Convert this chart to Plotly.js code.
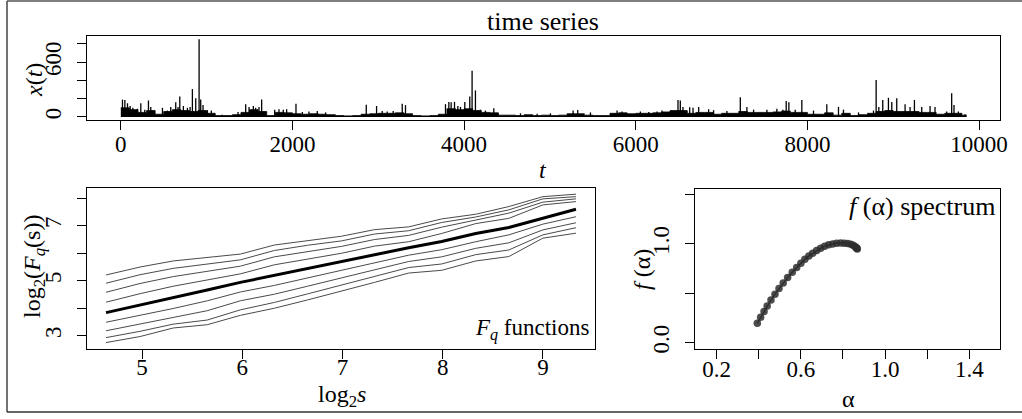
<!DOCTYPE html>
<html>
<head>
<meta charset="utf-8">
<script src="https://cdn.plot.ly/plotly-3.0.1.min.js"></script>
<style>html,body{margin:0;padding:0;background:#fff;}#chart{width:1022px;height:419px;}</style>
</head>
<body>
<div id="chart"></div>
<script>
// ---------- time series ----------
// dense band level per 100-unit bin (t = 0,100,...,9800)
const baseLevel = [100,80,50,70,30,60,80,70,60,70,40,15,15,25,50,80,60,15,50,45,
  35,30,35,30,25,15,12,15,30,35,40,40,45,35,15,12,15,30,90,80,
  90,70,50,45,20,20,15,25,15,20,15,20,35,35,20,15,15,40,45,35,
  40,40,45,55,70,70,40,50,50,30,40,40,60,50,50,50,55,65,50,50,
  30,30,45,20,40,15,25,40,60,70,60,60,60,50,50,30,40,40,20];
// isolated spikes: time and height
const spikeT = [19,47,78,109,140,194,233,279,322,349,485,543,582,640,667,687,729,776,807,834,873,912,931,958,1009,1055,1183,1366,1455,1494,1544,1571,1610,1641,1793,1843,1893,1932,2041,2115,2192,2289,2386,2860,2980,3046,3104,3174,3279,3317,3783,3822,3849,3888,3927,3958,4008,4066,4093,4132,4190,4248,4346,
  4657,4851,5006,5270,5324,5472,5782,5840,6054,6151,6248,6306,6403,6492,6519,6550,6628,6667,6733,6849,6907,7062,7218,7295,7373,7528,7644,7714,7753,7784,7858,7935,8071,8226,8362,8420,8595,8770,8801,8832,8878,8944,8983,9041,9138,9196,9247,9332,9429,9487,9623,9681,9708,9759,9837];
const spikeH = [190,185,150,120,100,90,150,80,180,110,100,70,110,160,110,225,120,100,110,305,205,850,190,130,75,70,25,55,140,110,120,100,110,190,80,85,80,85,145,55,60,65,50,135,120,65,60,65,145,130,140,165,160,165,120,110,165,225,505,290,80,70,95,
  40,35,40,70,75,50,70,60,60,55,60,70,65,185,180,110,105,100,110,85,75,65,215,110,80,80,90,80,175,160,80,185,70,140,110,80,50,70,405,110,185,210,165,205,140,110,185,110,120,110,60,260,130,60,30];
const tsEnd = 9856;

// ---------- Fq functions ----------
const log2s = [4.64,4.98,5.31,5.65,5.98,6.32,6.65,6.99,7.32,7.66,7.99,8.33,8.66,9.00,9.33];
const Fq1 = [5.21,5.50,5.72,5.84,5.97,6.30,6.47,6.62,6.86,6.96,7.25,7.42,7.70,8.06,8.15];
const Fq2 = [4.91,5.22,5.45,5.60,5.76,6.10,6.29,6.45,6.70,6.82,7.12,7.32,7.58,7.98,8.06];
const Fq3 = [4.58,4.90,5.15,5.33,5.53,5.87,6.07,6.25,6.50,6.65,6.95,7.20,7.46,7.86,7.98];
const Fq4 = [4.22,4.53,4.80,5.02,5.25,5.58,5.80,6.00,6.26,6.42,6.72,7.08,7.27,7.76,7.88];
const FqMain = [3.84,4.11,4.38,4.66,4.94,5.20,5.45,5.70,5.96,6.20,6.43,6.72,6.94,7.27,7.60];
const Fq6 = [3.49,3.74,3.99,4.27,4.59,4.83,5.10,5.39,5.67,5.93,6.13,6.42,6.67,7.06,7.33];
const Fq7 = [3.18,3.43,3.68,3.91,4.27,4.51,4.80,5.11,5.41,5.70,5.87,6.18,6.38,6.85,7.11];
const Fq8 = [2.93,3.16,3.42,3.57,3.94,4.21,4.52,4.84,5.16,5.48,5.61,5.95,6.12,6.67,6.93];
const Fq9 = [2.75,2.97,3.28,3.40,3.74,4.00,4.30,4.62,4.94,5.28,5.38,5.72,5.88,6.55,6.73];

// ---------- f(alpha) spectrum ----------
const alpha = [0.393,0.409,0.425,0.440,0.458,0.477,0.496,0.516,0.537,0.559,0.580,0.600,0.619,0.638,0.656,0.675,0.694,0.713,0.732,0.751,0.770,0.789,0.806,0.822,0.837,0.848,0.857,0.862,0.866,0.868];
const falpha = [0.196,0.257,0.314,0.371,0.432,0.490,0.547,0.604,0.658,0.712,0.759,0.803,0.844,0.877,0.904,0.931,0.955,0.975,0.989,0.999,1.006,1.009,1.006,1.002,0.996,0.986,0.972,0.963,0.955,0.948];

// ---------- tick labels ----------
const tsXTicks = [0,2000,4000,6000,8000,10000];
const tsYTicks = [0,200,400,600,800];
const tsYText = ['0','','','600',''];
const fqXTicks = [5,6,7,8,9];
const fqYTicks = [3,4,5,6,7,8];
const fqYText = ['3','','5','','7',''];
const spXTicks = [0.2,0.4,0.6,0.8,1.0,1.2,1.4];
const spXText = ['0.2','','0.6','','1.0','','1.4'];
const spYTicks = [0,0.5,1.0,1.5];
const spYText = ['0.0','','1.0',''];

// ---------- build ----------
const W = 1022, H = 419;
const px = v => v / W;
const py = v => 1 - v / H;
const FONT = '"Liberation Serif", "DejaVu Serif", "Times New Roman", Times, serif';

const baseX = baseLevel.map((_, i) => i * 100);
baseX.push(tsEnd);
const baseY = baseLevel.slice(); baseY.push(baseLevel[baseLevel.length - 1]);

const sx = [], sy = [];
spikeT.forEach((t, i) => { sx.push(t, t, null); sy.push(0, spikeH[i], null); });

const traces = [
  {x: baseX, y: baseY, type: 'scatter', mode: 'lines', line: {shape: 'hv', color: '#000', width: 0.8},
   fill: 'tozeroy', fillcolor: '#000', xaxis: 'x', yaxis: 'y', hoverinfo: 'skip'},
  {x: sx, y: sy, type: 'scatter', mode: 'lines', line: {color: '#000', width: 1.3}, xaxis: 'x', yaxis: 'y', hoverinfo: 'skip'}
];
[Fq1, Fq2, Fq3, Fq4, Fq6, Fq7, Fq8, Fq9].forEach(arr => {
  traces.push({x: log2s, y: arr, type: 'scatter', mode: 'lines', line: {color: '#4a4a4a', width: 1}, xaxis: 'x2', yaxis: 'y2'});
});
traces.push({x: log2s, y: FqMain, type: 'scatter', mode: 'lines', line: {color: '#000', width: 3}, xaxis: 'x2', yaxis: 'y2'});
traces.push({x: alpha, y: falpha, type: 'scatter', mode: 'lines+markers', line: {color: '#111', width: 1.2},
  marker: {size: 7.5, color: 'rgba(45,45,45,0.85)', line: {width: 0}}, xaxis: 'x3', yaxis: 'y3'});

const axBase = {
  showline: true, mirror: true, linecolor: '#000', linewidth: 1,
  ticks: 'outside', ticklen: 9, tickwidth: 1, tickcolor: '#000',
  showgrid: false, zeroline: false, fixedrange: true,
  tickfont: {family: FONT, size: 23, color: '#000'}
};
const ax = o => Object.assign({}, axBase, o);

const ann = (text, x, y, opts) => Object.assign({
  text: text, x: px(x), y: py(y), xref: 'paper', yref: 'paper', showarrow: false,
  font: {family: FONT, size: 24, color: '#000'}, xanchor: 'center', yanchor: 'middle'
}, opts || {});
const big = {family: FONT, size: 26, color: '#000'};

const layout = {
  width: W, height: H, margin: {l: 0, r: 0, t: 0, b: 0},
  font: {family: FONT, size: 23, color: '#000'},
  paper_bgcolor: '#fff', plot_bgcolor: '#fff', showlegend: false,
  xaxis: ax({domain: [px(87), px(1000)], range: [-394, 10244], tickvals: tsXTicks, ticktext: tsXTicks.map(String), anchor: 'y', ticklabelstandoff: -6}),
  yaxis: ax({domain: [py(120), py(36)], range: [-33, 885], tickvals: tsYTicks, ticktext: tsYText, tickangle: -90, anchor: 'x', ticklabelstandoff: 7}),
  xaxis2: ax({domain: [px(87), px(595)], range: [4.45, 9.52], tickvals: fqXTicks, ticktext: fqXTicks.map(String), anchor: 'y2', ticklabelstandoff: -12}),
  yaxis2: ax({domain: [py(349), py(188)], range: [2.516, 8.375], tickvals: fqYTicks, ticktext: fqYText, tickangle: -90, anchor: 'x2', ticklabelstandoff: 7}),
  xaxis3: ax({domain: [px(695), px(1000)], range: [0.097, 1.546], tickvals: spXTicks, ticktext: spXText, anchor: 'y3', ticklabelstandoff: -10}),
  yaxis3: ax({domain: [py(349), py(189)], range: [-0.064, 1.554], tickvals: spYTicks, ticktext: spYText, tickangle: -90, anchor: 'x3', ticklabelstandoff: 7}),
  annotations: [
    ann('time series', 543, 21, {font: {family: FONT, size: 26, color: '#000'}}),
    ann('<i>t</i>', 543, 170),
    ann('<i>x</i>(<i>t</i>)', 34, 80, {textangle: -90}),
    ann('log<sub>2</sub>(<i>F</i><sub><i>q</i></sub>(s))', 34, 267, {textangle: -90}),
    ann('log<sub>2</sub><i>s</i>', 342, 396),
    ann('<i>F</i><sub><i>q</i></sub> functions', 592, 329, {xanchor: 'right', font: {family: FONT, size: 23, color: '#000'}}),
    ann('<i>f</i> (α)', 642, 270, {textangle: -90}),
    ann('α', 848, 399),
    ann('<i>f</i> (α) spectrum', 997, 207, {xanchor: 'right', font: big})
  ],
  shapes: [
    {type: 'line', xref: 'paper', yref: 'paper', x0: px(7), x1: px(7), y0: py(1), y1: py(412), line: {color: '#444', width: 1.5}},
    {type: 'line', xref: 'paper', yref: 'paper', x0: px(7), x1: 1, y0: py(1), y1: py(1), line: {color: '#555', width: 1.5}},
    {type: 'line', xref: 'paper', yref: 'paper', x0: px(7), x1: 1, y0: py(412), y1: py(412), line: {color: '#333', width: 1.5}}
  ]
};

Plotly.newPlot('chart', traces, layout, {staticPlot: true, displayModeBar: false});
</script>
</body>
</html>
